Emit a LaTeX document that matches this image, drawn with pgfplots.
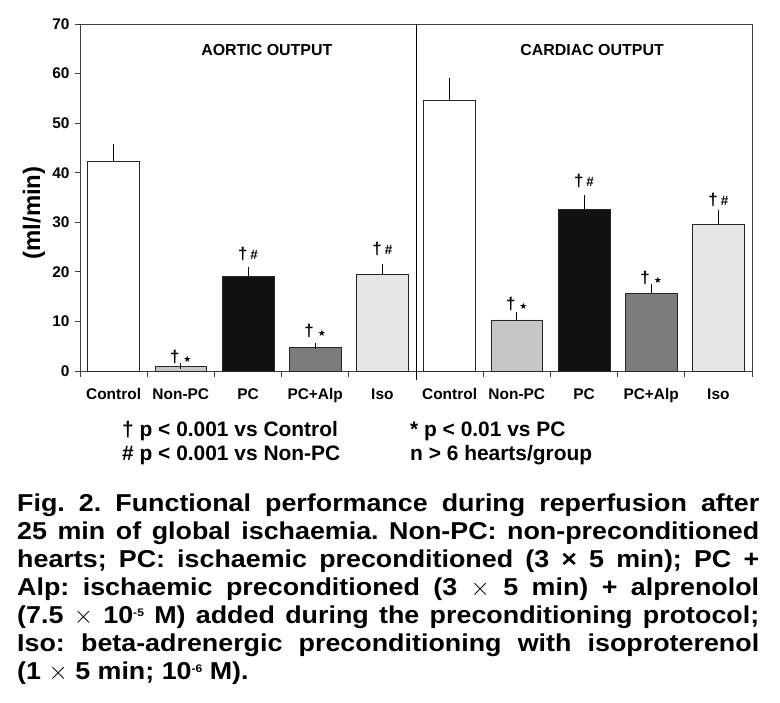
\documentclass[border=0pt]{standalone}
\usepackage{pgfplots}
\pgfplotsset{compat=1.18}
\usepackage{fontspec}
\setmainfont{Liberation Sans}
\newfontfamily\dejavu{DejaVu Sans}
\newfontfamily\capfont[FakeStretch=1.1]{Liberation Sans}
\definecolor{nonpc}{HTML}{C6C6C6}
\definecolor{pc}{HTML}{111111}
\definecolor{pcalp}{HTML}{7C7C7C}
\definecolor{iso}{HTML}{E6E6E6}
\definecolor{axisgray}{HTML}{404040}
\newcommand{\mydg}{{\fontsize{17}{17}\selectfont †}}
\newcommand{\myds}{\hspace{4bp}{\dejavu\fontsize{9}{9}\selectfont ★}}
\newcommand{\mydh}{\hspace{3bp}{\fontsize{13.5}{13.5}\selectfont\#}}
\newcommand{\mysup}[1]{\raisebox{7bp}{\fontsize{11}{11}\selectfont #1}}
\frenchspacing
\begin{document}
\begin{tikzpicture}
\useasboundingbox (-80bp,-332bp) rectangle (700bp,371bp);
\begin{axis}[
  scale only axis, width=672bp, height=347bp,
  at={(0,0)}, anchor=south west,
  xmin=-0.5, xmax=9.5, ymin=0, ymax=70,
  ytick={0,10,...,70},
  xtick={0,...,9},
  xticklabels={Control,Non-PC,PC,PC+Alp,Iso,Control,Non-PC,PC,PC+Alp,Iso},
  minor xtick={-0.5,0.5,...,9.5},
  tick align=outside, tick pos=left,
  major tick length=5bp, minor tick length=6bp,
  major x tick style={draw=none},
  /pgf/number format/assume math mode=true,
  ticklabel style={font=\bfseries\fontsize{15.5}{15.5}\selectfont},
  xticklabel style={yshift=-9bp},
  yticklabel style={xshift=-2bp},
  axis line style={line width=0.8pt, axisgray},
  every tick/.style={line width=0.8pt, axisgray},
  clip=false,
  mybar/.style={ybar, bar width=0.77, bar shift=0pt, draw=black!85, line width=0.7pt,
     error bars/y dir=plus, error bars/y explicit,
     error bars/error bar style={line width=0.7pt, black},
     error bars/error mark options={line width=0.7pt, black, mark size=3bp}},
]
\addplot[mybar, fill=white] coordinates {(0,42.2) +- (0,3.0) (5,54.6) +- (0,3.9)};
\addplot[mybar, fill=nonpc] coordinates {(1,0.9) +- (0,0.1) (6,10.3) +- (0,0.9)};
\addplot[mybar, fill=pc] coordinates {(2,19.0) +- (0,1.4) (7,32.6) +- (0,2.2)};
\addplot[mybar, fill=pcalp] coordinates {(3,4.7) +- (0,0.4) (8,15.7) +- (0,1.2)};
\addplot[mybar, fill=iso] coordinates {(4,19.5) +- (0,1.5) (9,29.6) +- (0,2.2)};
\draw[line width=0.9pt, black] (axis cs:4.5,70) -- ([yshift=-9bp]axis cs:4.5,0);
\begin{scope}[every node/.style={anchor=base, inner sep=0pt, font=\bfseries}]
\node at (axis cs:1,1.8) {\mydg\myds};
\node at (axis cs:2,22.4) {\mydg\mydh};
\node at (axis cs:3,6.9) {\mydg\myds};
\node at (axis cs:4,23.6) {\mydg\mydh};
\node at (axis cs:6,12.5) {\mydg\myds};
\node at (axis cs:7,37.3) {\mydg\mydh};
\node at (axis cs:8,17.7) {\mydg\myds};
\node at (axis cs:9,33.3) {\mydg\mydh};
\end{scope}
\node[font=\bfseries\fontsize{16}{16}\selectfont] at (axis cs:2.28,64.8) {AORTIC OUTPUT};
\node[font=\bfseries\fontsize{16}{16}\selectfont] at (axis cs:7.12,64.8) {CARDIAC OUTPUT};
\end{axis}
\node[rotate=90, font=\bfseries\fontsize{24}{24}\selectfont] at (-46bp,158bp) {(ml/min)};
\begin{scope}[every node/.style={anchor=base west, inner sep=0pt, font=\bfseries\fontsize{21}{21}\selectfont}]
\node at (42bp,-65bp) {† p < 0.001 vs Control};
\node at (42bp,-89bp) {\# p < 0.001 vs Non-PC};
\node at (330bp,-65bp) {* p < 0.01 vs PC};
\node at (330bp,-89bp) {n > 6 hearts/group};
\end{scope}
\node[anchor=north west, inner sep=0pt, text width=742bp, align=justify,
  font=\capfont\bfseries\fontsize{24.5}{28}\selectfont] at (-63bp,-123bp) {%
Fig. 2. Functional performance during reperfusion after\linebreak
25 min of global ischaemia. Non-PC: non-preconditioned\linebreak
hearts; PC: ischaemic preconditioned (3 × 5 min); PC +\linebreak
Alp: ischaemic preconditioned (3 $\times$ 5 min) + alprenolol\linebreak
(7.5 $\times$ 10\mysup{-5} M) added during the preconditioning protocol;\linebreak
Iso: beta-adrenergic preconditioning with isoproterenol\linebreak
(1 $\times$ 5 min; 10\mysup{-6} M).};
\end{tikzpicture}
\end{document}
